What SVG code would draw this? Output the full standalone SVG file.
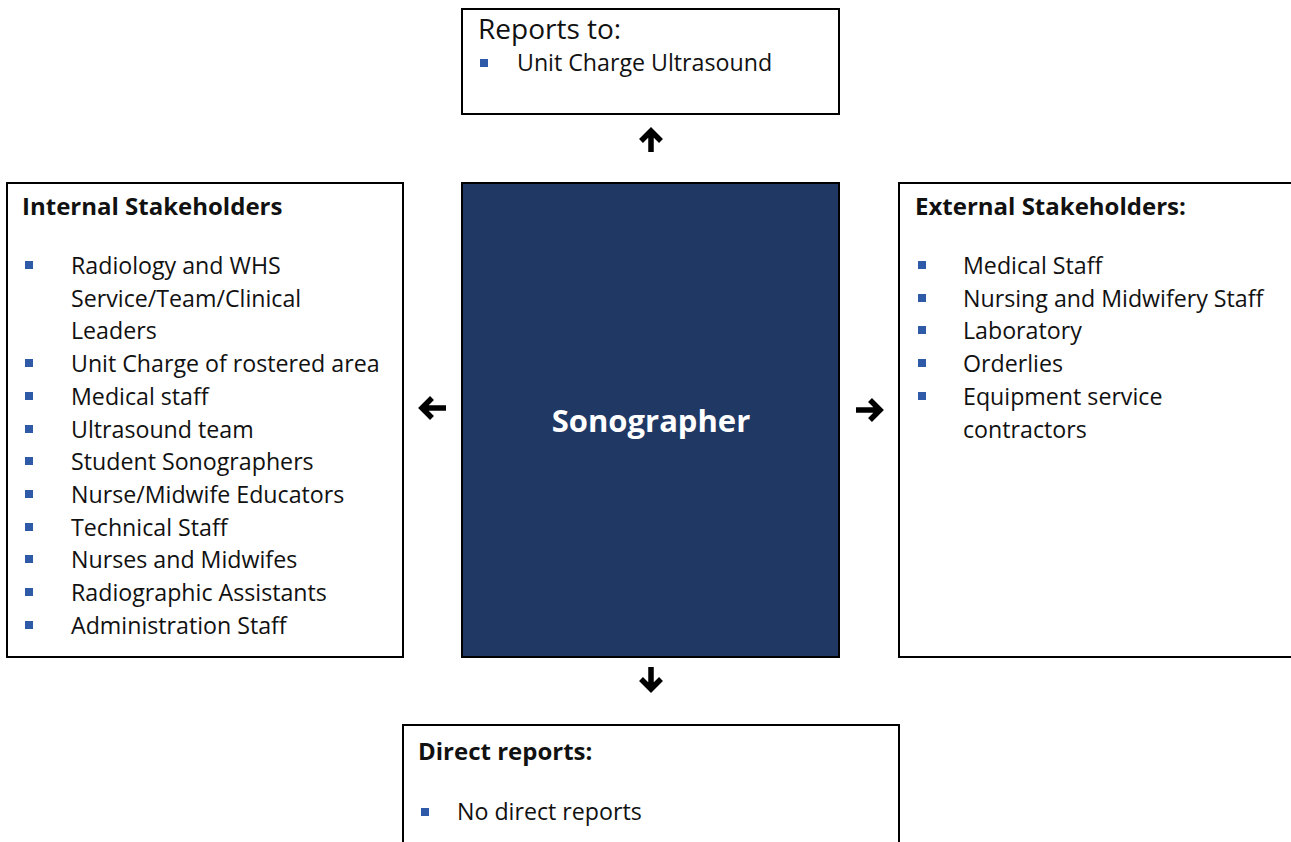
<svg xmlns="http://www.w3.org/2000/svg" width="1291" height="842" viewBox="0 0 1291 842">
<style>
.box{fill:#fff;stroke:#000;stroke-width:2}
.t{font-family:"Open Sans","Noto Sans",sans-serif;font-size:23.2px;fill:#111}
.h{font-family:"Open Sans","Noto Sans",sans-serif;font-size:24px;font-weight:bold;fill:#111}
.b{fill:#2E5AA8}
.arr{fill:none;stroke:#000;stroke-width:5.5;stroke-linejoin:miter;stroke-linecap:butt}
</style>
<rect width="1291" height="842" fill="#fff"/>
<g id="reports-to">
<rect class="box" x="462" y="9" width="377" height="105"/>
<text class="t" x="478" y="39" style="font-size:28px">Reports to:</text>
<rect class="b" x="480" y="59" width="8" height="8"/>
<text class="t" x="517" y="71">Unit Charge Ultrasound</text>
</g>
<g id="internal">
<rect class="box" x="7" y="183" width="396" height="474"/>
<text class="h" x="22" y="215">Internal Stakeholders</text>
<g>
<rect class="b" x="25" y="261" width="8" height="8"/>
<text class="t" x="71" y="274">Radiology and WHS</text>
<text class="t" x="71" y="307">Service/Team/Clinical</text>
<text class="t" x="71" y="339">Leaders</text>
<rect class="b" x="25" y="359" width="8" height="8"/>
<text class="t" x="71" y="372">Unit Charge of rostered area</text>
<rect class="b" x="25" y="392" width="8" height="8"/>
<text class="t" x="71" y="405">Medical staff</text>
<rect class="b" x="25" y="425" width="8" height="8"/>
<text class="t" x="71" y="438">Ultrasound team</text>
<rect class="b" x="25" y="457" width="8" height="8"/>
<text class="t" x="71" y="470">Student Sonographers</text>
<rect class="b" x="25" y="490" width="8" height="8"/>
<text class="t" x="71" y="503">Nurse/Midwife Educators</text>
<rect class="b" x="25" y="523" width="8" height="8"/>
<text class="t" x="71" y="536">Technical Staff</text>
<rect class="b" x="25" y="555" width="8" height="8"/>
<text class="t" x="71" y="568">Nurses and Midwifes</text>
<rect class="b" x="25" y="588" width="8" height="8"/>
<text class="t" x="71" y="601">Radiographic Assistants</text>
<rect class="b" x="25" y="621" width="8" height="8"/>
<text class="t" x="71" y="634">Administration Staff</text>
</g>
</g>
<g id="sonographer">
<rect x="462" y="183" width="377" height="474" fill="#203864" stroke="#000" stroke-width="2"/>
<text x="651" y="432" text-anchor="middle" style="font-family:'Open Sans','Noto Sans',sans-serif;font-size:31px;font-weight:bold;fill:#fff">Sonographer</text>
</g>
<g id="external">
<rect class="box" x="899" y="183" width="400" height="474"/>
<text class="h" x="915" y="215">External Stakeholders:</text>
<rect class="b" x="918" y="261" width="8" height="8"/>
<text class="t" x="963" y="274">Medical Staff</text>
<rect class="b" x="918" y="294" width="8" height="8"/>
<text class="t" x="963" y="307">Nursing and Midwifery Staff</text>
<rect class="b" x="918" y="326" width="8" height="8"/>
<text class="t" x="963" y="339">Laboratory</text>
<rect class="b" x="918" y="359" width="8" height="8"/>
<text class="t" x="963" y="372">Orderlies</text>
<rect class="b" x="918" y="392" width="8" height="8"/>
<text class="t" x="963" y="405">Equipment service</text>
<text class="t" x="963" y="438">contractors</text>
</g>
<g id="direct-reports">
<rect class="box" x="403" y="725" width="496" height="130"/>
<text class="h" x="418" y="760">Direct reports:</text>
<rect class="b" x="421" y="808" width="8" height="8"/>
<text class="t" x="457" y="820">No direct reports</text>
</g>
<g id="connectors">
<path class="arr" d="M651 152V131M641 141L651 131L661 141"/>
<path class="arr" d="M651 667V689M641 679L651 689L661 679"/>
<path class="arr" d="M446 408H422M432 398L422 408L432 418"/>
<path class="arr" d="M856 410H880M870 400L880 410L870 420"/>
</g>
</svg>
